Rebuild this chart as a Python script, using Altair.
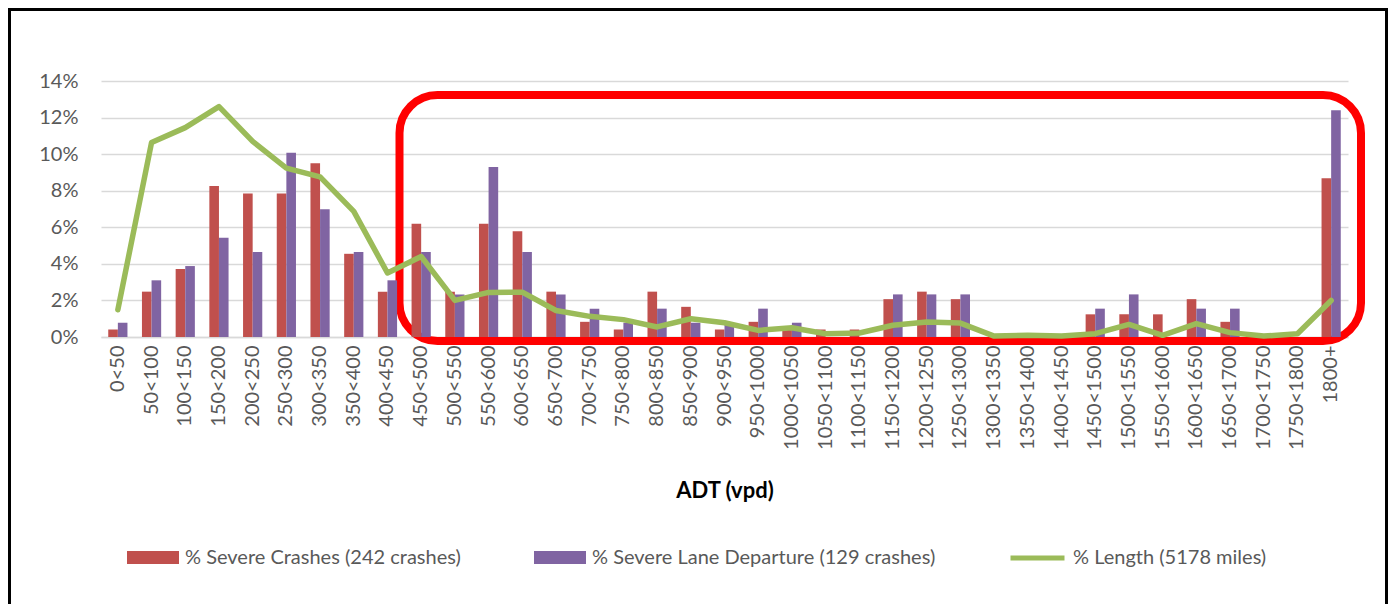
import altair as alt
import pandas as pd

categories = ["0<50", "50<100", "100<150", "150<200", "200<250", "250<300", "300<350",
              "350<400", "400<450", "450<500", "500<550", "550<600", "600<650", "650<700",
              "700<750", "750<800", "800<850", "850<900", "900<950", "950<1000", "1000<1050",
              "1050<1100", "1100<1150", "1150<1200", "1200<1250", "1250<1300", "1300<1350",
              "1350<1400", "1400<1450", "1450<1500", "1500<1550", "1550<1600", "1600<1650",
              "1650<1700", "1700<1750", "1750<1800", "1800+"]

severe_crashes = [0.41, 2.48, 3.72, 8.26, 7.85, 7.85, 9.50, 4.55, 2.48, 6.20, 2.48, 6.20,
                  5.79, 2.48, 0.83, 0.41, 2.48, 1.65, 0.41, 0.83, 0.41, 0.41, 0.41, 2.07,
                  2.48, 2.07, 0, 0, 0, 1.24, 1.24, 1.24, 2.07, 0.83, 0, 0, 8.68]

severe_lane = [0.78, 3.10, 3.88, 5.43, 4.65, 10.08, 6.98, 4.65, 3.10, 4.65, 2.33, 9.30,
               4.65, 2.33, 1.55, 0.78, 1.55, 0.78, 0.78, 1.55, 0.78, 0, 0, 2.33,
               2.33, 2.33, 0, 0, 0, 1.55, 2.33, 0, 1.55, 1.55, 0, 0, 12.40]

length_pct = [1.49, 10.64, 11.45, 12.60, 10.70, 9.24, 8.76, 6.87, 3.50, 4.40, 2.00, 2.44,
              2.45, 1.45, 1.13, 0.95, 0.55, 1.00, 0.78, 0.36, 0.51, 0.18, 0.22, 0.64,
              0.82, 0.76, 0.05, 0.09, 0.05, 0.18, 0.69, 0.09, 0.73, 0.24, 0.05, 0.18, 2.00]

y_ticks = [0, 2, 4, 6, 8, 10, 12, 14]

S1 = "% Severe Crashes (242 crashes)"
S2 = "% Severe Lane Departure (129 crashes)"
S3 = "% Length (5178 miles)"

df_red = pd.DataFrame({"cat": categories, "series": S1, "value": severe_crashes})
df_pur = pd.DataFrame({"cat": categories, "series": S2, "value": severe_lane})
df_len = pd.DataFrame({"cat": categories, "series": S3, "value": length_pct})
one = pd.DataFrame({"k": [0]})

W, H = 1247, 256
TOTAL_H = 596
FONT = "Lato"
GREY = "#595959"
GRID = "#d9d9d9"
RED = "#C0504D"
PURPLE = "#8064A2"
GREEN = "#9BBB59"

x_enc = alt.X(
    "cat:N", sort=categories,
    scale=alt.Scale(paddingInner=0.43, paddingOuter=0.215),
    axis=alt.Axis(
        title="ADT (vpd)", labelAngle=270, labelAlign="right", labelBaseline="middle",
        labelPadding=8, labelFont=FONT, labelFontSize=20, labelColor=GREY, ticks=False,
        domainColor=GRID, domainWidth=1.5, labelOverlap=False,
        titleFont=FONT, titleFontSize=22, titleFontWeight="bold", titleColor="black",
        titleY=160, titleBaseline="alphabetic",
    ),
)
y_enc = alt.Y(
    "value:Q",
    scale=alt.Scale(domain=[0, 14], nice=False),
    axis=alt.Axis(
        values=y_ticks, labelExpr="datum.value + '%'", title=None, domain=False,
        ticks=False, gridColor=GRID, gridWidth=1.5, labelPadding=23,
        labelFont=FONT, labelFontSize=20, labelColor=GREY,
    ),
)

LEG_Y = 450.5


def legend(lx, ly, **kw):
    return alt.Legend(orient="none", legendX=lx, legendY=ly, title=None,
                      labelFont=FONT, labelFontSize=20, labelColor=GREY,
                      labelOffset=6, labelLimit=600, **kw)


def bars(df, name, color, lx):
    return alt.Chart(df).mark_bar().encode(
        x=x_enc,
        y=y_enc,
        xOffset=alt.XOffset("series:N", scale=alt.Scale(domain=[S1, S2], paddingInner=0, paddingOuter=0)),
        color=alt.Color("series:N", scale=alt.Scale(domain=[name], range=[color]),
                        legend=legend(lx, LEG_Y, symbolType="M-1,-0.25H1V0.25H-1Z",
                                      symbolSize=2704, symbolStrokeWidth=0, symbolOpacity=1)),
    )


red_bars = bars(df_red, S1, RED, 26)
pur_bars = bars(df_pur, S2, PURPLE, 433)

line = alt.Chart(df_len).mark_line(strokeWidth=5.5, strokeJoin="round", strokeCap="round").encode(
    x=x_enc,
    y=y_enc,
    color=alt.Color("series:N", scale=alt.Scale(domain=[S3], range=[GREEN]),
                    legend=legend(907, LEG_Y - 3, symbolType="stroke", symbolSize=2916,
                                  symbolStrokeWidth=5)),
)

box = alt.Chart(one).mark_rect(stroke="#ff0000", strokeWidth=8, fillOpacity=0, cornerRadius=38).encode(
    x=alt.value(298.5), x2=alt.value(1260), y=alt.value(14), y2=alt.value(260)
)

bottom_y = TOTAL_H - 73
left_b = alt.Chart(one).mark_rule(color="black", strokeWidth=3).encode(
    x=alt.value(-91.5), y=alt.value(-73), y2=alt.value(bottom_y))
top_b = alt.Chart(one).mark_rule(color="black", strokeWidth=3).encode(
    x=alt.value(-93), x2=alt.value(1287), y=alt.value(-71.5))
right_b = alt.Chart(one).mark_rule(color="black", strokeWidth=3).encode(
    x=alt.value(1285.5), y=alt.value(-73), y2=alt.value(bottom_y))

chart = alt.layer(box, red_bars, pur_bars, line, left_b, top_b, right_b).resolve_scale(
    color="independent"
).properties(
    width=W, height=H,
    padding={"left": 93, "top": 73, "right": 40, "bottom": TOTAL_H - 73 - H},
    autosize=alt.AutoSizeParams(type="none"),
    background="white",
).configure_view(strokeWidth=0)

chart.save("out.html", embed_options={"renderer": "svg", "actions": False})
